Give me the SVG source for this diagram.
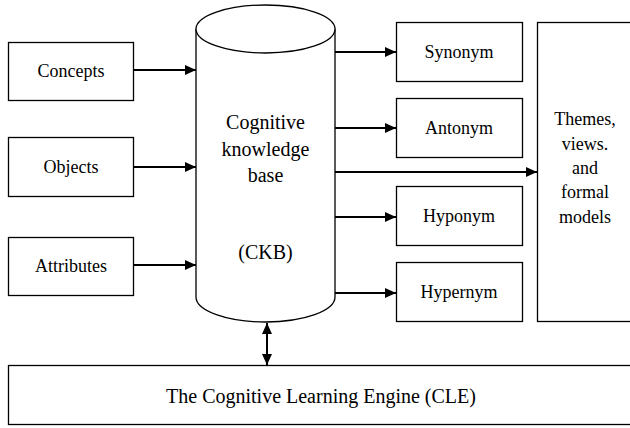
<svg xmlns="http://www.w3.org/2000/svg" width="630" height="428" viewBox="0 0 630 428">
  <style>
    .box { fill: #fff; stroke: #000; stroke-width: 1.3; }
    text { font-family: 'Liberation Serif', 'Noto Serif', 'DejaVu Serif', serif; fill: #000; text-anchor: middle; }
    .t18 { font-size: 18px; }
    .t20 { font-size: 20px; }
    .conn { stroke: #000; stroke-width: 2; fill: none; }
  </style>
  <defs>
    <marker id="arrow" markerUnits="userSpaceOnUse" markerWidth="12" markerHeight="11" refX="11" refY="5" orient="auto-start-reverse">
      <path d="M0,0 L11,5 L0,10 z" fill="#000"/>
    </marker>
  </defs>
  <rect width="630" height="428" fill="#fff"/>

  <g id="concepts">
    <rect class="box" x="8.5" y="42.5" width="125" height="58"/>
    <text class="t18" x="71" y="77" font-family="Liberation Serif, serif">Concepts</text>
  </g>
  <g id="objects">
    <rect class="box" x="8.5" y="137.5" width="125" height="59"/>
    <text class="t18" x="71" y="173">Objects</text>
  </g>
  <g id="attributes">
    <rect class="box" x="8.5" y="237.5" width="125" height="58"/>
    <text class="t18" x="71" y="272">Attributes</text>
  </g>

  <g id="ckb">
    <path class="box" d="M196,29 L196,297 A69.5,25 0 0 0 335,297 L335,29"/>
    <ellipse class="box" cx="265.5" cy="29" rx="69.5" ry="24"/>
    <text class="t20" x="265.5" y="129">Cognitive</text>
    <text class="t20" x="265.5" y="155.5">knowledge</text>
    <text class="t20" x="265.5" y="182">base</text>
    <text class="t20" x="265.5" y="259">(CKB)</text>
  </g>

  <g id="synonym">
    <rect class="box" x="396.5" y="22.5" width="126" height="59"/>
    <text class="t18" x="459" y="58">Synonym</text>
  </g>
  <g id="antonym">
    <rect class="box" x="396.5" y="98.5" width="126" height="59"/>
    <text class="t18" x="459" y="134">Antonym</text>
  </g>
  <g id="hyponym">
    <rect class="box" x="396.5" y="186.5" width="126" height="59"/>
    <text class="t18" x="459" y="222">Hyponym</text>
  </g>
  <g id="hypernym">
    <rect class="box" x="396.5" y="262.5" width="126" height="59"/>
    <text class="t18" x="459" y="298">Hypernym</text>
  </g>

  <g id="themes">
    <rect class="box" x="537.5" y="22.5" width="110" height="299"/>
    <text class="t18" x="585" y="125">Themes,</text>
    <text class="t18" x="585" y="150">views.</text>
    <text class="t18" x="585" y="174">and</text>
    <text class="t18" x="585" y="198">formal</text>
    <text class="t18" x="585" y="223">models</text>
  </g>

  <g id="cle">
    <rect class="box" x="8.5" y="365.5" width="640" height="59"/>
    <text class="t20" x="321" y="403">The Cognitive Learning Engine (CLE)</text>
  </g>

  <g id="connectors">
    <line class="conn" x1="134" y1="70" x2="196" y2="70" marker-end="url(#arrow)"/>
    <line class="conn" x1="134" y1="167" x2="196" y2="167" marker-end="url(#arrow)"/>
    <line class="conn" x1="134" y1="265" x2="196" y2="265" marker-end="url(#arrow)"/>
    <line class="conn" x1="335" y1="52" x2="396" y2="52" marker-end="url(#arrow)"/>
    <line class="conn" x1="335" y1="128" x2="396" y2="128" marker-end="url(#arrow)"/>
    <line class="conn" x1="335" y1="172" x2="537" y2="172" marker-end="url(#arrow)"/>
    <line class="conn" x1="335" y1="217" x2="396" y2="217" marker-end="url(#arrow)"/>
    <line class="conn" x1="335" y1="293" x2="396" y2="293" marker-end="url(#arrow)"/>
    <line class="conn" x1="267" y1="323" x2="267" y2="365" marker-start="url(#arrow)" marker-end="url(#arrow)"/>
  </g>
</svg>
